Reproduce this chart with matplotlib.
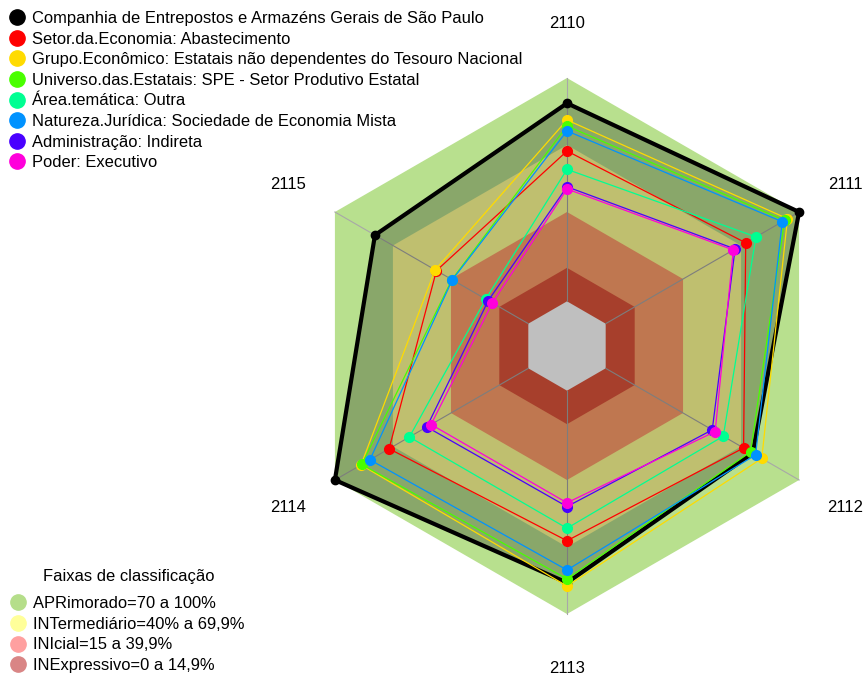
import numpy as np
import matplotlib
matplotlib.use("Agg")
import matplotlib.pyplot as plt
from matplotlib.lines import Line2D
from matplotlib.patches import Polygon

plt.rcParams['font.family'] = ['Liberation Sans', 'DejaVu Sans']

# ---------------- data ----------------
axis_labels = ['2110', '2111', '2112', '2113', '2114', '2115']

series_names = [
    'Companhia de Entrepostos e Armazéns Gerais de São Paulo',
    'Setor.da.Economia: Abastecimento',
    'Grupo.Econômico: Estatais não dependentes do Tesouro Nacional',
    'Universo.das.Estatais: SPE - Setor Produtivo Estatal',
    'Área.temática: Outra',
    'Natureza.Jurídica: Sociedade de Economia Mista',
    'Administração: Indireta',
    'Poder: Executivo',
]
series_colors = ['#000000', '#FF0000', '#FFDB00', '#49FF00',
                 '#00FF92', '#0092FF', '#4900FF', '#FF00DB']

companhia = [88.7, 100.0, 76.0, 86.0, 100.0, 79.3]
setor = [67.3, 72.4, 71.3, 67.2, 72.0, 47.5]
grupo = [81.2, 94.0, 80.7, 87.5, 86.5, 48.2]
universo = [78.5, 92.5, 74.9, 84.3, 86.1, 39.5]
area = [59.1, 77.7, 60.8, 61.6, 61.5, 22.0]
natureza = [76.3, 91.3, 77.5, 80.3, 81.9, 39.3]
administracao = [51.3, 66.9, 55.1, 51.9, 52.5, 20.7]
poder = [50.3, 66.0, 56.6, 50.2, 50.3, 18.6]
series_values = [companhia, setor, grupo, universo, area, natureza,
                 administracao, poder]

band_names = ['APRimorado=70 a 100%', 'INTermediário=40% a 69,9%',
              'INIcial=15 a 39,9%', 'INExpressivo=0 a 14,9%']
band_upper = [100, 70, 40, 15]
band_fill = ['#B8E08E', '#FFFF95', '#FFA06B', '#E0553B']
band_legend_colors = ['#B5DE8A', '#FFFF9A', '#FFA0A0', '#D98585']
legend_title = 'Faixas de classificação'

# ---------------- geometry helpers ----------------
n = len(axis_labels)
theta = np.deg2rad(90 - 60 * np.arange(n))


def rad(v):
    v = np.asarray(v, dtype=float)
    return (1 + 5 * v / 100.0) / 6.0


def xy(values):
    r = rad(values)
    return r * np.cos(theta), r * np.sin(theta)


# ---------------- figure ----------------
W, H = 867, 680
fig = plt.figure(figsize=(W / 100, H / 100), dpi=100)
cx, cy, R = 567, 346, 268
half = 300
ax = fig.add_axes([(cx - half) / W, (H - cy - half) / H, 2 * half / W, 2 * half / H])
L = half / R
ax.set_xlim(-L, L)
ax.set_ylim(-L, L)
ax.set_aspect('equal')
ax.axis('off')

# bands
for up, col in zip(band_upper, band_fill):
    bx, by = xy([up] * n)
    ax.add_patch(Polygon(np.column_stack([bx, by]), closed=True,
                         facecolor=col, edgecolor='none', zorder=1))
bx, by = xy([0] * n)
ax.add_patch(Polygon(np.column_stack([bx, by]), closed=True,
                     facecolor='white', edgecolor='none', zorder=1))

# radial axis lines
r0, r1 = rad(0), rad(100)
for t in theta:
    ax.plot([r0 * np.cos(t), r1 * np.cos(t)], [r0 * np.sin(t), r1 * np.sin(t)],
            color='#A8A8A8', lw=0.8, zorder=2)

# series
for i, (vals, col) in enumerate(zip(series_values, series_colors)):
    px, py = xy(vals)
    pxc, pyc = np.append(px, px[0]), np.append(py, py[0])
    if i == 0:
        ax.add_patch(Polygon(np.column_stack([px, py]), closed=True,
                             facecolor=(0, 0, 0, 0.25), edgecolor='none', zorder=3))
        ax.plot(pxc, pyc, color=col, lw=3.0, zorder=4, solid_joinstyle='miter')
        ax.plot(px, py, 'o', color=col, ms=6, zorder=4)
    else:
        ax.plot(pxc, pyc, color=col, lw=0.9, zorder=5 + i)
        ax.plot(px, py, 'o', color=col, ms=7, mec=col, zorder=5 + i)

# axis labels
for t, lab in zip(theta, axis_labels):
    ax.text(1.2 * np.cos(t), 1.205 * np.sin(t), lab, ha='center', va='center',
            fontsize=12, clip_on=False)

fs = 11.85
# series legend
handles = [Line2D([], [], ls='none', marker='o', ms=11, color=c, mec=c)
           for c in series_colors]
fig.legend(handles, series_names, loc='upper left',
           bbox_to_anchor=(9 / W, 1 - 11 / H), frameon=False, fontsize=fs,
           borderpad=0, borderaxespad=0, handlelength=0.96, handletextpad=0.46,
           labelspacing=0.34)

# band legend
bhandles = [Line2D([], [], ls='none', marker='o', ms=11, color=c, mec=c)
            for c in band_legend_colors]
fig.legend(bhandles, band_names, loc='lower left',
           bbox_to_anchor=(10 / W, 7 / H), frameon=False, fontsize=fs,
           borderpad=0, borderaxespad=0, handlelength=0.96,
           handletextpad=0.46, labelspacing=0.34)
fig.text(129 / W, 1 - 577 / H, legend_title, ha='center', va='center',
         fontsize=fs)

fig.savefig('out.png', dpi=100)
